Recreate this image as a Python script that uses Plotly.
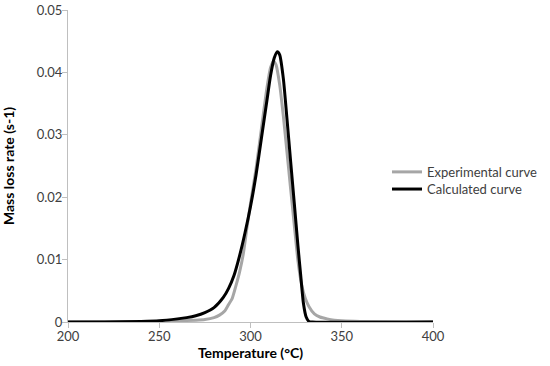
import plotly.graph_objects as go

# Experimental curve (grey)
exp_T = [200, 250, 260, 270, 275, 280, 283, 286, 288, 290, 292, 294, 296, 298, 300,
         303, 306, 309, 311, 312.7, 314, 316, 318, 320, 322, 324, 326, 328, 330, 332,
         335, 338, 342, 346, 350, 360, 400]
exp_y = [0, 0.0001, 0.0002, 0.0003, 0.0004, 0.0007, 0.0011, 0.0018, 0.0028, 0.0038,
         0.0058, 0.0080, 0.0108, 0.0150, 0.0190, 0.0245, 0.0310, 0.0375, 0.0408, 0.0418,
         0.0412, 0.0380, 0.0330, 0.0272, 0.0213, 0.0155, 0.0098, 0.0060, 0.0038, 0.0025,
         0.0013, 0.0008, 0.0005, 0.0003, 0.0002, 0.0001, 0.00005]

# Calculated curve (black)
calc_T = [200, 220, 240, 250, 260, 265, 270, 275, 280, 285, 288, 291, 294, 297, 300,
          303, 306, 309, 311, 313, 314.7, 316, 318, 320, 322, 324, 326, 327.5, 329,
          330.5, 332, 334, 400]
calc_y = [0, 0.00002, 0.0001, 0.0002, 0.0005, 0.0007, 0.0010, 0.0015, 0.0023, 0.0039,
          0.0054, 0.0075, 0.0106, 0.0143, 0.0185, 0.0235, 0.0295, 0.0355, 0.0395, 0.0423,
          0.0433, 0.0428, 0.0390, 0.0325, 0.0257, 0.0190, 0.0122, 0.0075, 0.0030,
          0.0008, 0.0001, 0, 0]

x_ticks = [200, 250, 300, 350, 400]
y_ticks = [0, 0.01, 0.02, 0.03, 0.04, 0.05]
y_tick_text = ["0", "0.01", "0.02", "0.03", "0.04", "0.05"]

FONT = "Lato, Carlito, Calibri, sans-serif"

fig = go.Figure()
fig.add_trace(go.Scatter(x=exp_T, y=exp_y, mode="lines", name="Experimental curve",
                         legend="legend",
                         line=dict(color="#a6a6a6", width=3, shape="spline", smoothing=0.6)))
fig.add_trace(go.Scatter(x=calc_T, y=calc_y, mode="lines", name="Calculated curve",
                         legend="legend2",
                         line=dict(color="#000000", width=3, shape="spline", smoothing=0.6)))

axis_common = dict(showgrid=False, zeroline=False, showline=True, linecolor="#bfbfbf",
                   linewidth=1, ticks="outside", ticklen=5, tickcolor="#bfbfbf",
                   automargin=False, ticklabelstandoff=-3, ticklabeloverflow="allow",
                   tickfont=dict(family=FONT, size=13, color="#404040"))

legend_common = dict(xanchor="left", yanchor="middle", bgcolor="rgba(0,0,0,0)",
                     font=dict(family=FONT, size=13, color="#404040"), itemwidth=30)

fig.update_layout(
    width=550, height=366,
    margin=dict(l=68, r=117, t=10, b=44, autoexpand=False),
    paper_bgcolor="white", plot_bgcolor="white",
    font=dict(family=FONT, color="#000000"),
    xaxis=dict(range=[200, 400], tickvals=x_ticks,
               title=dict(text="<b>Temperature (°C)</b>", font=dict(family=FONT, size=14),
                          standoff=0),
               **axis_common),
    yaxis=dict(range=[0, 0.05], tickvals=y_ticks, ticktext=y_tick_text,
               title=dict(text="<b>Mass loss rate (s-1)</b>", font=dict(family=FONT, size=14),
                          standoff=22),
               **axis_common),
    legend=dict(x=0.874, y=0.481, **legend_common),
    legend2=dict(x=0.874, y=0.426, **legend_common),
    showlegend=True,
)

# remove the default 8px page margin so the figure fills the window exactly
fig.write_html("out.html", config={"displayModeBar": False},
               post_script="document.body.style.margin='0';")
